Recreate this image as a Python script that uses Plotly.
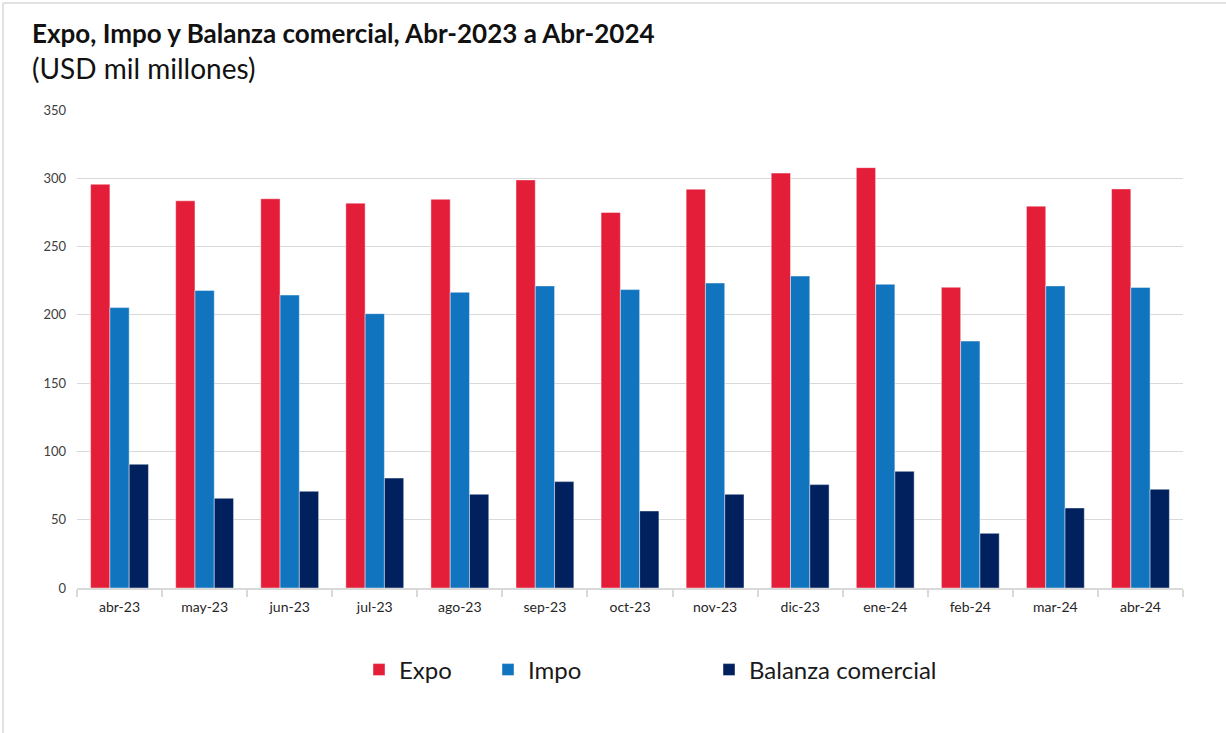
import plotly.graph_objects as go

meses = ["abr-23", "may-23", "jun-23", "jul-23", "ago-23", "sep-23", "oct-23",
         "nov-23", "dic-23", "ene-24", "feb-24", "mar-24", "abr-24"]
expo = [295.6, 283.5, 285.0, 281.8, 284.6, 298.8, 275.0, 292.0, 303.8, 307.8, 220.2, 279.6, 292.2]
impo = [205.3, 217.9, 214.5, 200.9, 216.5, 221.2, 218.5, 223.3, 228.4, 222.4, 180.8, 221.2, 220.1]
balanza = [90.6, 65.7, 70.8, 80.5, 68.6, 77.9, 56.4, 68.6, 75.7, 85.4, 40.0, 58.6, 72.3]
y_ticks = [0, 50, 100, 150, 200, 250, 300, 350]

FONT = "Lato"
W, H = 1226, 733
L, R, T, B = 77, 1183, 110, 588


def px(x):
    return (x - L) / (R - L)


def py(y):
    return (B - y) / (B - T)


fig = go.Figure()
series = [("Expo", expo, "#E41E38", "legend"),
          ("Impo", impo, "#1174BE", "legend2"),
          ("Balanza comercial", balanza, "#00215E", "legend3")]
for name, vals, color, leg in series:
    fig.add_trace(go.Bar(
        x=meses, y=vals, name=name, legend=leg,
        marker=dict(color=color, line=dict(color="rgba(255,255,255,0.55)", width=0.8)),
    ))

leg_common = dict(orientation="h", yanchor="middle", xanchor="left",
                  font=dict(family=FONT, size=24, color="#1a1a1a"),
                  bgcolor="rgba(0,0,0,0)", itemwidth=30, tracegroupgap=0)
fig.update_layout(
    width=W, height=H,
    margin=dict(l=L, r=W - R, t=T, b=H - B),
    paper_bgcolor="white", plot_bgcolor="white",
    barmode="group", bargap=0.32, bargroupgap=0,
    font=dict(family=FONT, color="#333333"),
    showlegend=True,
    legend=dict(x=px(359), y=py(670), **leg_common),
    legend2=dict(x=px(488), y=py(670), **leg_common),
    legend3=dict(x=px(709), y=py(670), **leg_common),
    xaxis=dict(
        showgrid=False, showline=True, linecolor="#d9d9d9", linewidth=1.5,
        ticks="outside", tickson="boundaries", ticklen=7, tickcolor="#d9d9d9",
        tickwidth=1.5, tickfont=dict(family=FONT, size=14, color="#262626"),
        ticklabelstandoff=5,
    ),
    yaxis=dict(
        range=[0, 350], tickvals=y_ticks, showgrid=True, gridcolor="#d9d9d9",
        gridwidth=1.2, zeroline=False, showline=False, ticks="",
        tickfont=dict(family=FONT, size=13, color="#404040"), ticklabelstandoff=10,
    ),
    annotations=[
        dict(text="<b>Expo, Impo y Balanza comercial, Abr-2023 a Abr-2024</b>",
             x=px(30), y=py(33), xref="paper", yref="paper", xanchor="left",
             yanchor="middle", showarrow=False,
             font=dict(family=FONT, size=26, color="#111111")),
        dict(text="(USD mil millones)",
             x=px(30), y=py(68), xref="paper", yref="paper", xanchor="left",
             yanchor="middle", showarrow=False,
             font=dict(family=FONT, size=28, color="#111111")),
    ],
    shapes=[
        dict(type="line", xref="paper", yref="paper", x0=px(3), x1=px(1226),
             y0=py(3), y1=py(3), line=dict(color="#d9d9d9", width=1.5)),
        dict(type="line", xref="paper", yref="paper", x0=px(3), x1=px(3),
             y0=py(3), y1=py(733), line=dict(color="#d9d9d9", width=1.5)),
    ],
)

fig.write_html("out.html", config={"displayModeBar": False},
               post_script="document.body.style.margin='0';")
